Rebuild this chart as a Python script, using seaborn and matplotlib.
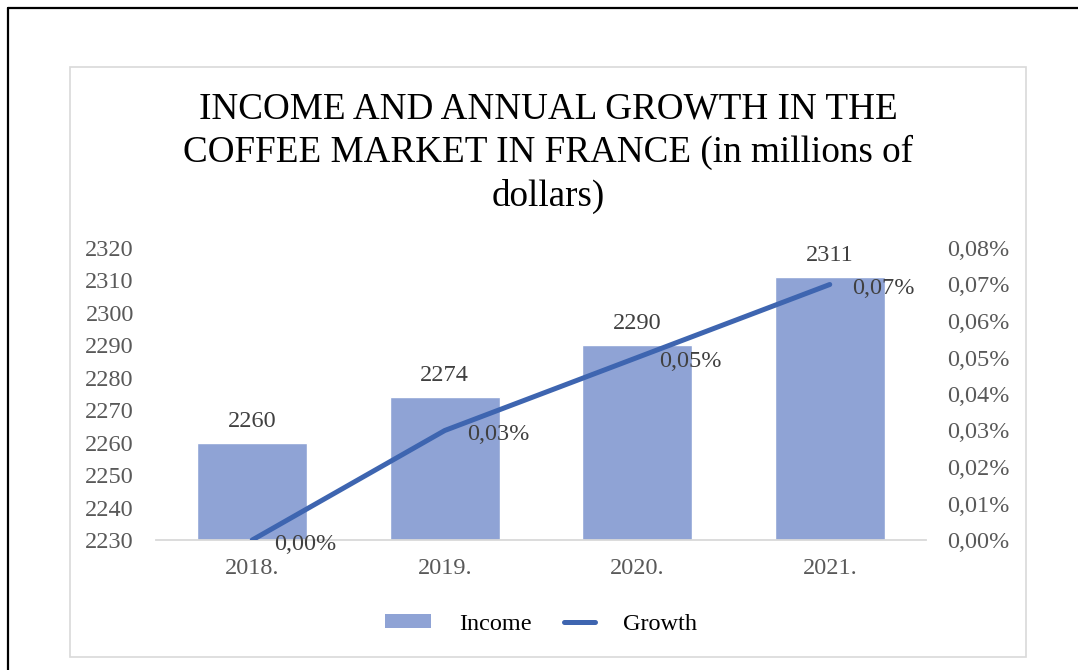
import numpy as np
import pandas as pd
import matplotlib
matplotlib.use("Agg")
import matplotlib.pyplot as plt
from matplotlib.patches import Rectangle, Patch
from matplotlib.lines import Line2D
from matplotlib.legend_handler import HandlerLine2D
from matplotlib.ticker import FuncFormatter, MultipleLocator
import seaborn as sns

# ---- data ----
years = ["2018.", "2019.", "2020.", "2021."]
income = [2260, 2274, 2290, 2311]
growth = [0.00, 0.03, 0.05, 0.07]  # percent
title = "INCOME AND ANNUAL GROWTH IN THE\nCOFFEE MARKET IN FRANCE (in millions of\ndollars)"

sns.set_theme(style="white")
plt.rcParams["font.family"] = ["Liberation Serif", "DejaVu Serif"]

BAR = "#8FA3D5"
LINE = "#3E65B0"
TICK = "#595959"
LABEL = "#404040"
GRID = "#D9D9D9"
FS = 17.5

fig = plt.figure(figsize=(10.78, 6.70), dpi=100)
W, H = 1078, 670

def fx(x): return x / W
def fy(y): return 1 - y / H

# outer black frame (partially visible)
fig.add_artist(Line2D([fx(8), fx(8)], [0, fy(8)], color="black", lw=1.6, transform=fig.transFigure))
fig.add_artist(Line2D([fx(8), 1.0], [fy(8), fy(8)], color="black", lw=1.6, transform=fig.transFigure))
# chart area box
fig.add_artist(Rectangle((fx(70), fy(657)), fx(1026) - fx(70), fy(67) - fy(657),
                         transform=fig.transFigure, fill=False, edgecolor=GRID, lw=1.2))

ax = fig.add_axes([fx(156), fy(540), fx(926) - fx(156), fy(248) - fy(540)])
df = pd.DataFrame({"year": years, "income": income, "growth": growth})
sns.barplot(data=df, x="year", y="income", color=BAR, width=0.57, saturation=1, ax=ax)
ax.set_ylim(2230, 2320)
ax.yaxis.set_major_locator(MultipleLocator(10))
ax.set_xlim(-0.5, len(years) - 0.5)
ax.set_xlabel("")
ax.set_ylabel("")
for s in ["top", "right", "left"]:
    ax.spines[s].set_visible(False)
ax.spines["bottom"].set_color(GRID)
ax.spines["bottom"].set_linewidth(1.3)
ax.tick_params(axis="y", length=0, pad=16, labelsize=FS, labelcolor=TICK)
ax.tick_params(axis="x", length=0, pad=13, labelsize=FS, labelcolor=TICK)
for c in ax.containers:
    ax.bar_label(c, labels=[str(v) for v in income], padding=8, fontsize=FS, color=LABEL)

ax2 = ax.twinx()
sns.lineplot(data=df, x="year", y="growth", color=LINE, lw=3.6, ax=ax2, sort=False)
ax2.set_ylim(0, 0.08)
ax2.yaxis.set_major_locator(MultipleLocator(0.01))
ax2.yaxis.set_major_formatter(FuncFormatter(lambda v, p: f"{v:.2f}%".replace(".", ",")))
ax2.set_ylabel("")
for s in ["top", "right", "left", "bottom"]:
    ax2.spines[s].set_visible(False)
ax2.tick_params(axis="y", length=0, pad=15, labelsize=FS, labelcolor=TICK)
for i, g in enumerate(growth):
    ax2.annotate(f"{g:.2f}%".replace(".", ","), (i, g), xytext=(16, -3),
                 textcoords="offset points", ha="left", va="center",
                 fontsize=FS, color=LABEL)

fig.text(fx(548), fy(153), title, ha="center", va="center", fontsize=26.7,
         color="black", linespacing=1.3)

class RightShortLine(HandlerLine2D):
    def create_artists(self, legend, orig_handle, xdescent, ydescent, width, height, fontsize, trans):
        w2 = width * 31 / 46
        return super().create_artists(legend, orig_handle, xdescent - (width - w2), ydescent,
                                      w2, height, fontsize, trans)

h_bar = Patch(facecolor=BAR, edgecolor="none", label="Income")
h_line = Line2D([], [], color=LINE, lw=3.6, label="Growth")
fpx = FS * 100 / 72
fig.legend(handles=[h_bar, h_line], loc="center", ncol=2, frameon=False,
           bbox_to_anchor=(fx(541), fy(624)), fontsize=FS,
           handlelength=46 / fpx, handleheight=12 / fpx, handletextpad=28 / fpx,
           columnspacing=18 / fpx,
           handler_map={h_line: RightShortLine()}, labelcolor="black")

fig.savefig("out.png", dpi=100)
